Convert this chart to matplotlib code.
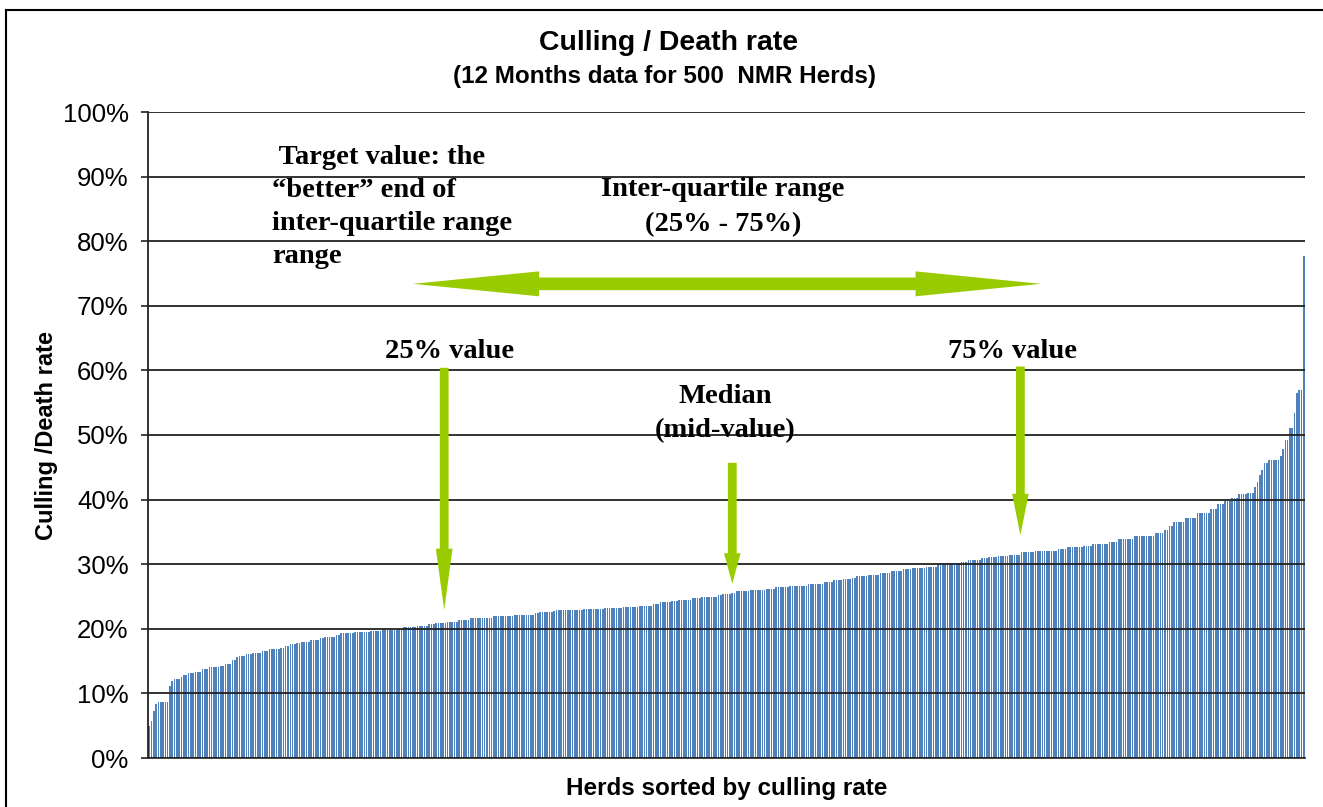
import numpy as np
import matplotlib
matplotlib.use("Agg")
import matplotlib.pyplot as plt
from matplotlib.patches import Polygon
from matplotlib.lines import Line2D
from matplotlib.ticker import PercentFormatter

# culling rate levels (%), with how many herds sit on each step
levels = [5.0, 5.7, 7.2, 8.4, 8.7, 11.2, 11.9, 12.2, 12.6, 12.9,
          13.1, 13.3, 13.7, 13.8, 14.1, 14.3, 14.6, 15.1, 15.6, 15.8,
          16.1, 16.3, 16.5, 16.9, 17.1, 17.3, 17.6, 17.8, 18.0, 18.3,
          18.6, 18.8, 19.0, 19.3, 19.5, 19.6, 19.8, 20.0, 20.3, 20.5,
          20.7, 20.9, 21.1, 21.3, 21.6, 21.7, 22.0, 22.2, 22.4, 22.6,
          22.8, 22.9, 23.0, 23.2, 23.4, 23.6, 23.9, 24.1, 24.3, 24.5,
          24.7, 24.9, 25.2, 25.4, 25.6, 25.8, 26.0, 26.2, 26.4, 26.6,
          26.9, 27.0, 27.3, 27.5, 27.7, 27.9, 28.1, 28.3, 28.6, 29.0,
          29.2, 29.4, 29.6, 30.0, 30.2, 30.4, 30.7, 30.9, 31.1, 31.3,
          31.5, 31.9, 32.1, 32.3, 32.6, 32.8, 33.1, 33.5, 33.9, 34.4,
          34.9, 35.3, 35.9, 36.6, 37.2, 38.0, 38.5, 39.3, 39.8, 40.2,
          40.9, 41.0, 41.9, 42.8, 43.8, 44.6, 45.7, 46.2, 46.7, 47.8,
          49.3, 51.1, 53.4, 56.5, 57.0, 77.7]
counts = [1, 1, 1, 1, 5, 1, 1, 3, 1, 2,
          3, 3, 1, 2, 5, 2, 3, 2, 1, 3,
          3, 4, 3, 5, 2, 2, 3, 2, 4, 4,
          2, 5, 2, 6, 7, 5, 7, 2, 6, 5,
          3, 5, 5, 5, 7, 3, 9, 9, 2, 6,
          1, 12, 9, 8, 7, 6, 3, 5, 3, 6,
          4, 7, 2, 4, 2, 6, 7, 4, 6, 8,
          4, 3, 4, 4, 4, 2, 5, 5, 5, 5,
          4, 6, 5, 1, 9, 3, 6, 3, 4, 5,
          5, 6, 10, 4, 7, 4, 7, 4, 7, 9,
          4, 2, 2, 5, 5, 6, 3, 3, 3, 3,
          4, 3, 1, 1, 1, 1, 2, 5, 1, 1,
          2, 2, 1, 1, 2, 1]

rates = np.repeat(levels, counts)
herds = np.arange(len(rates))

yticks = np.arange(0, 101, 10)

green = "#99CC00"
blue = "#4F81BD"

fig = plt.figure(figsize=(13.23, 8.07), dpi=100)
ax = fig.add_axes([148 / 1323, 49 / 807, 1157 / 1323, 646 / 807])

ax.bar(herds, rates, width=0.7, color=blue, edgecolor="none", zorder=2)

ax.set_xlim(-0.5, len(rates) - 0.5)
ax.set_ylim(0, 100)
ax.set_yticks(yticks)
ax.yaxis.set_major_formatter(PercentFormatter(decimals=0))
ax.set_xticks([])
ax.tick_params(axis="y", length=5, width=1.2, color="#222222", labelsize=18.5, pad=9)
for lab in ax.get_yticklabels():
    lab.set_fontfamily("Liberation Sans")
ax.yaxis.grid(True, color="#222222", linewidth=1.3, zorder=4)
ax.set_axisbelow(False)
for s in ["top", "right"]:
    ax.spines[s].set_visible(False)
ax.spines["left"].set_color("#222222")
ax.spines["left"].set_linewidth(1.3)
ax.spines["bottom"].set_color("#333333")
ax.spines["bottom"].set_linewidth(1.3)

ax.set_ylabel("Culling /Death rate", fontsize=17, fontweight="bold",
              family="Liberation Sans", labelpad=3)
ax.set_xlabel("Herds sorted by culling rate", fontsize=17.5, fontweight="bold",
              family="Liberation Sans", labelpad=14)

fig.text(0.505, 1 - 43 / 807, "Culling / Death rate", ha="center", va="center",
         fontsize=20.5, fontweight="bold", family="Liberation Sans")
fig.text(0.502, 1 - 76 / 807, "(12 Months data for 500  NMR Herds)", ha="center",
         va="center", fontsize=17.5, fontweight="bold", family="Liberation Sans")

# outer frame of the original sheet
fig.add_artist(Line2D([6 / 1323, 6 / 1323], [0, 1 - 10 / 807], color="black", lw=1.5))
fig.add_artist(Line2D([6 / 1323, 1], [1 - 10 / 807, 1 - 10 / 807], color="black", lw=1.5))

serif = dict(family="Liberation Serif", fontweight="bold", fontsize=20.5, zorder=3)
ax.text(53, 85.3, " Target value: the\n\u201cbetter\u201d end of\ninter-quartile range\nrange",
        ha="left", va="center", linespacing=1.43, **serif)
ax.text(248, 85.3, "Inter-quartile range\n(25% - 75%)", ha="center", va="center",
        linespacing=1.5, **serif)
ax.text(130, 63.0, "25% value", ha="center", va="center", **serif)
ax.text(373, 63.0, "75% value", ha="center", va="center", **serif)
ax.text(249, 53.3, "Median\n(mid-value)", ha="center", va="center",
        linespacing=1.5, **serif)


def down_arrow(x, top, base, tip, shaft=1.9, head=3.6):
    pts = [(x - shaft, top), (x + shaft, top), (x + shaft, base), (x + head, base),
           (x, tip), (x - head, base), (x - shaft, base)]
    ax.add_patch(Polygon(pts, closed=True, color=green, lw=0, zorder=5))


down_arrow(127.5, 60.4, 32.4, 22.9)
down_arrow(252.0, 45.7, 31.7, 27.0)
down_arrow(376.5, 60.6, 40.9, 34.5)

# double headed arrow across the inter-quartile range
yc, sh, hh = 73.4, 0.98, 1.93
l_tip, l_base, r_base, r_tip = 114.0, 168.5, 331.2, 385.4
ax.add_patch(Polygon([(l_tip, yc), (l_base, yc + hh), (l_base, yc + sh), (r_base, yc + sh),
                      (r_base, yc + hh), (r_tip, yc), (r_base, yc - hh), (r_base, yc - sh),
                      (l_base, yc - sh), (l_base, yc - hh)],
                     closed=True, color=green, lw=0, zorder=5))

fig.savefig("out.png", dpi=100)
